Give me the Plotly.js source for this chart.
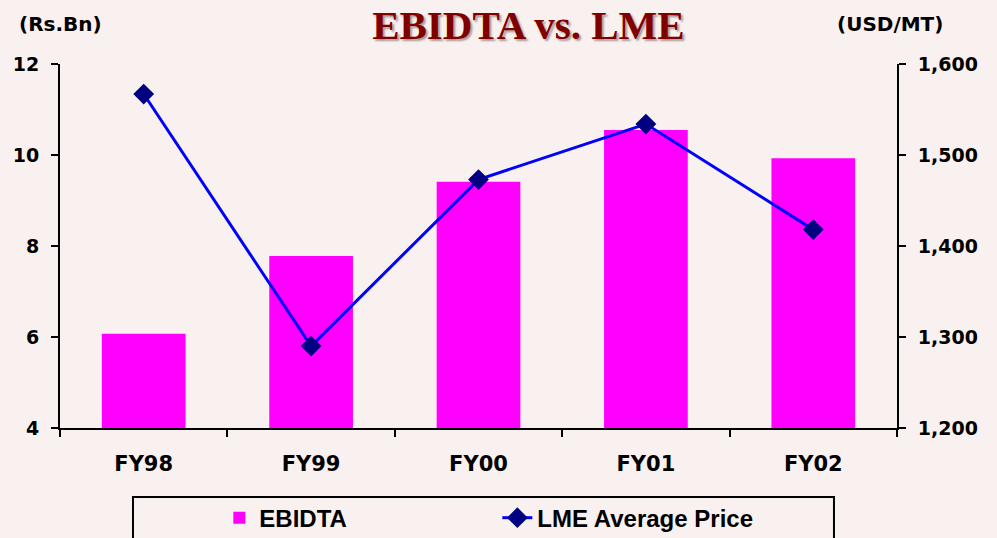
<!DOCTYPE html>
<html>
<head>
<meta charset="utf-8">
<script src="https://cdn.plot.ly/plotly-3.0.1.min.js"></script>
<style>html,body{margin:0;padding:0;background:#f9f1f0;}#chart{width:997px;height:538px;}</style>
</head>
<body>
<div id="chart"></div>
<script>
var categories = ['FY98', 'FY99', 'FY00', 'FY01', 'FY02'];
var ebidta = [6.07, 7.78, 9.41, 10.55, 9.93];
var lmePrice = [1567, 1290, 1473, 1534, 1418];
var leftTicks = [4, 6, 8, 10, 12];
var rightTicks = [1200, 1300, 1400, 1500, 1600];

var tickFont = {family: 'DejaVu Sans', size: 19, color: '#000', weight: 'bold'};

var traces = [
  {
    type: 'bar', name: 'EBIDTA', x: categories, y: ebidta,
    marker: {color: '#ff00ff'}, width: 0.5, yaxis: 'y'
  },
  {
    type: 'scatter', mode: 'lines+markers', name: 'LME Average Price',
    x: categories, y: lmePrice, yaxis: 'y2',
    line: {color: '#0000ff', width: 3},
    marker: {symbol: 'diamond', size: 16, color: '#000080'}
  }
];

var layout = {
  width: 997, height: 538,
  margin: {l: 60, r: 100, t: 64, b: 110},
  paper_bgcolor: '#f9f1f0', plot_bgcolor: 'rgba(0,0,0,0)',
  showlegend: true,
  title: {
    text: 'EBIDTA vs. LME', x: 0.53, xanchor: 'center', y: 0.955, yanchor: 'middle',
    font: {family: 'Liberation Serif', size: 41, color: '#800000', weight: 'bold', shadow: '2px 2px 2px #a89898'}
  },
  xaxis: {
    type: 'category', showline: true, linecolor: '#000', linewidth: 2,
    ticks: 'outside', tickson: 'boundaries', ticklen: 7, tickwidth: 2, tickcolor: '#000',
    ticklabelstandoff: 16,
    tickfont: {family: 'DejaVu Sans', size: 21, color: '#000', weight: 'bold'},
    showgrid: false, zeroline: false, fixedrange: true
  },
  yaxis: {
    range: [4, 12], tickvals: leftTicks, showline: true, linecolor: '#000', linewidth: 2,
    ticks: 'outside', ticklen: 7, tickwidth: 2, tickcolor: '#000',
    ticklabelstandoff: 8,
    tickfont: tickFont, showgrid: false, zeroline: false
  },
  yaxis2: {
    overlaying: 'y', side: 'right', range: [1200, 1600], tickvals: rightTicks,
    tickformat: ',d', showline: true, linecolor: '#000', linewidth: 2,
    ticks: 'outside', ticklen: 7, tickwidth: 2, tickcolor: '#000',
    ticklabelstandoff: 8,
    tickfont: tickFont, showgrid: false, zeroline: false
  },
  legend: {
    orientation: 'h', xref: 'container', x: 0.22, xanchor: 'left',
    yref: 'container', y: 0.037, yanchor: 'middle',
    bgcolor: 'rgba(0,0,0,0)', borderwidth: 0, entrywidth: 233, traceorder: 'normal',
    font: {family: 'Liberation Sans', size: 24, color: '#000', weight: 'bold'}
  },
  shapes: [{
    type: 'rect', xref: 'paper', yref: 'paper',
    x0: 0.0872, x1: 0.9247, y0: -0.1896, y1: -0.33,
    line: {color: '#000', width: 2}, fillcolor: 'rgba(0,0,0,0)'
  }],
  annotations: [
    {text: '(Rs.Bn)', xref: 'paper', yref: 'paper', x: 0.001, y: 1.11, xanchor: 'center', yanchor: 'middle', showarrow: false,
     font: {family: 'DejaVu Sans', size: 20, color: '#000', weight: 'bold'}},
    {text: '(USD/MT)', xref: 'paper', yref: 'paper', x: 0.9916, y: 1.11, xanchor: 'center', yanchor: 'middle', showarrow: false,
     font: {family: 'DejaVu Sans', size: 20, color: '#000', weight: 'bold'}}
  ]
};

Plotly.newPlot('chart', traces, layout, {displayModeBar: false, staticPlot: true});
</script>
</body>
</html>
